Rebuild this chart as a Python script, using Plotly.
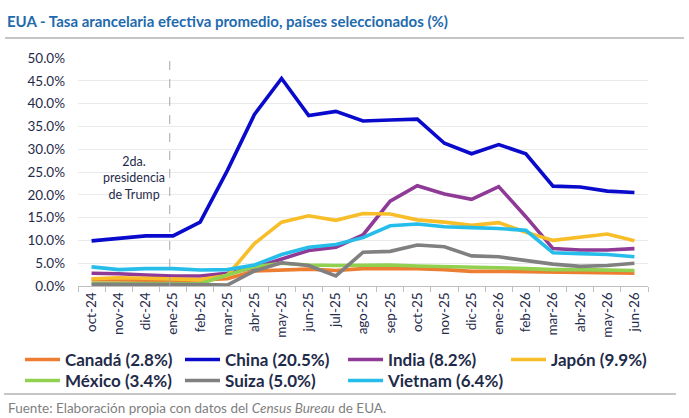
import plotly.graph_objects as go

months = ["oct-24", "nov-24", "dic-24", "ene-25", "feb-25", "mar-25", "abr-25", "may-25",
          "jun-25", "jul-25", "ago-25", "sep-25", "oct-25", "nov-25", "dic-25", "ene-26",
          "feb-26", "mar-26", "abr-26", "may-26", "jun-26"]

canada = [1.4, 1.3, 1.2, 1.2, 1.3, 1.6, 3.3, 3.5, 3.7, 3.4, 3.8, 3.8, 3.8, 3.6, 3.2, 3.2, 3.1, 3.1, 3.1, 2.9, 2.8]
china = [9.9, 10.4, 11.0, 11.0, 14.0, 25.3, 37.6, 45.5, 37.4, 38.3, 36.2, 36.4, 36.6, 31.3, 29.0, 31.0, 29.0, 21.9, 21.7, 20.8, 20.5]
india = [2.8, 2.7, 2.4, 2.2, 2.2, 2.8, 4.0, 6.0, 7.8, 8.5, 11.2, 18.6, 22.0, 20.2, 19.0, 21.8, 15.2, 8.2, 7.9, 7.9, 8.2]
japon = [1.6, 1.8, 1.7, 1.6, 1.4, 2.3, 9.3, 14.0, 15.4, 14.4, 15.9, 15.8, 14.5, 14.0, 13.3, 13.9, 11.8, 10.0, 10.7, 11.4, 9.9]
mexico = [0.6, 0.6, 0.5, 0.5, 0.5, 2.4, 4.2, 5.0, 4.6, 4.5, 4.6, 4.6, 4.4, 4.3, 4.2, 4.0, 3.8, 3.6, 3.6, 3.5, 3.4]
suiza = [0.4, 0.4, 0.3, 0.3, 0.3, 0.2, 3.3, 5.1, 4.5, 2.2, 7.4, 7.6, 9.0, 8.6, 6.6, 6.4, 5.6, 4.8, 4.3, 4.5, 5.0]
vietnam = [4.2, 3.6, 3.8, 3.8, 3.5, 3.6, 4.6, 6.9, 8.5, 9.1, 10.6, 13.2, 13.6, 13.0, 12.8, 12.6, 12.2, 7.3, 7.1, 6.9, 6.4]

series = [
    ("Canadá (2.8%)", canada, "#ED7D31"),
    ("China (20.5%)", china, "#0A0ACC"),
    ("India (8.2%)", india, "#8E3A96"),
    ("Japón (9.9%)", japon, "#F7BE2A"),
    ("México (3.4%)", mexico, "#92D050"),
    ("Suiza (5.0%)", suiza, "#808080"),
    ("Vietnam (6.4%)", vietnam, "#27BDEB"),
]

yticks = [0, 5, 10, 15, 20, 25, 30, 35, 40, 45, 50]

FONT = "Lato"
NAVY = "#1F2B4A"
W, H = 689, 418

# legend grid (pixel positions of each entry: column x, row centre y)
leg_cols = [20, 180, 343, 506]
leg_rows = [360, 381]

fig = go.Figure()
layout_legends = {}
for i, (name, vals, col) in enumerate(series):
    key = "legend" if i == 0 else f"legend{i + 1}"
    fig.add_trace(go.Scatter(x=months, y=vals, name=name, mode="lines",
                             line=dict(color=col, width=3.6), legend=key))
    r, c = divmod(i, 4)
    layout_legends[key] = dict(
        orientation="v", xref="container", yref="container",
        x=leg_cols[c] / W, y=1 - leg_rows[r] / H, xanchor="left", yanchor="middle",
        font=dict(family=FONT, size=17, color=NAVY, weight="bold"),
        itemwidth=35, bgcolor="rgba(0,0,0,0)", borderwidth=0)

fig.update_layout(
    width=W, height=H,
    margin=dict(l=78, r=41, t=58, b=132, autoexpand=False),
    paper_bgcolor="white", plot_bgcolor="white",
    font=dict(family=FONT, color=NAVY),
    showlegend=True,
    title=dict(text="<b>EUA - Tasa arancelaria efectiva promedio, países seleccionados (%)</b>",
               x=7 / W, xanchor="left", y=1 - 22 / H, yanchor="middle",
               font=dict(family=FONT, size=15, color="#1E6AAE")),
    **layout_legends,
)

fig.update_xaxes(type="category", tickangle=-90, tickson="boundaries",
                 ticks="outside", ticklen=5, tickcolor="#BFBFBF",
                 showline=True, linecolor="#BFBFBF", linewidth=1, automargin=False,
                 showgrid=False, tickfont=dict(family=FONT, size=13.5, color=NAVY),
                 range=[-0.5, len(months) - 0.5])
fig.update_yaxes(range=[0, 50], tickvals=yticks, automargin=False,
                 ticktext=[f"{v:.1f}%" for v in yticks],
                 showgrid=True, gridcolor="#EAEAEA", gridwidth=1,
                 zeroline=False, showline=False, ticks="", ticklabelstandoff=12,
                 tickfont=dict(family=FONT, size=13.5, color=NAVY))

# Trump second term marker
fig.add_shape(type="line", xref="x", yref="paper", x0=2.88, x1=2.88, y0=0, y1=0.99,
              line=dict(color="#A6A6A6", width=1, dash="dash"))
fig.add_annotation(xref="x", yref="paper", x=1.56, y=(285.7 - 178) / 227.4,
                   text="2da.<br>presidencia<br>de Trump", showarrow=False,
                   font=dict(family=FONT, size=12.5, color=NAVY), align="center")

# header / footer rules
def px_x(p):
    return (p - 78) / 570.0

def px_y(p):
    return (286 - p) / 228.0

fig.add_shape(type="line", xref="paper", yref="paper", x0=px_x(5), x1=px_x(684),
              y0=px_y(38), y1=px_y(38), line=dict(color="#8C8C8C", width=1.2))
fig.add_shape(type="line", xref="paper", yref="paper", x0=px_x(4), x1=px_x(676),
              y0=px_y(394), y1=px_y(394), line=dict(color="#8C8C8C", width=1.2))

fig.add_annotation(xref="paper", yref="paper", x=px_x(6), y=px_y(408),
                   xanchor="left", yanchor="middle", showarrow=False,
                   text="Fuente: Elaboración propia con datos del <i>Census Bureau</i> de EUA.",
                   font=dict(family=FONT, size=13.5, color="#7F7F7F"))

fig.write_html("out.html", config={"displayModeBar": False},
               post_script="document.body.style.margin='0px';")
